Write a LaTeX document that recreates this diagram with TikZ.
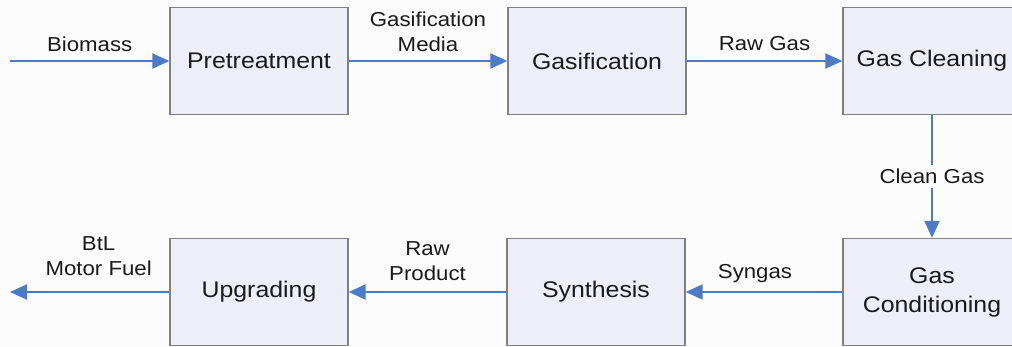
\documentclass[tikz,border=0pt]{standalone}
\usepackage{fontspec}
\setmainfont{Liberation Sans}[FakeStretch=1.1]
\usetikzlibrary{arrows.meta}
\definecolor{boxfill}{HTML}{EEEEF8}
\definecolor{boxdraw}{HTML}{808080}
\definecolor{arrowblue}{HTML}{4A7CC9}
\definecolor{txt}{HTML}{1A1A1A}
\tikzset{
  procbox/.style={draw=boxdraw, fill=boxfill, line width=1.3pt, minimum width=178pt, minimum height=107pt, inner sep=0pt, align=center, font=\fontsize{22.6}{29}\selectfont, text=txt},
  flow/.style={draw=arrowblue, line width=2pt, -{Triangle[length=17pt,width=15pt]}},
  lbl/.style={font=\fontsize{20.2}{25.5}\selectfont, text=txt, align=center, inner sep=1pt}
}
\begin{document}
\begin{tikzpicture}[x=1pt,y=1pt]
\fill[white!99!black] (0,0) rectangle (1012,-346);
\clip (0,0) rectangle (1012,-346);
\node[procbox] (pre) at (259,-61) {Pretreatment};
\node[procbox] (gas) at (597,-61) {Gasification};
\node[procbox] (clean) at (932,-61) {Gas Cleaning};
\node[procbox] (cond) at (932,-292) {Gas\\Conditioning};
\node[procbox] (syn) at (596,-292) {Synthesis};
\node[procbox] (upg) at (259,-292) {Upgrading};
\coordinate (in) at (10,-61);
\coordinate (out) at (10,-292);
\draw[flow] (in) -- (pre.west) node[lbl, midway, yshift=17pt] {Biomass};
\draw[flow] (pre.east) -- (gas.west) node[lbl, midway, yshift=29pt] {Gasification\\Media};
\draw[flow] (gas.east) -- (clean.west) node[lbl, midway, yshift=17pt] {Raw Gas};
\draw[flow] (clean.south) -- (cond.north) node[lbl, midway, fill=white!99!black, inner sep=4pt] {Clean Gas};
\draw[flow] (cond.west) -- (syn.east) node[lbl, midway, yshift=18pt, xshift=-9pt] {Syngas};
\draw[flow] (syn.west) -- (upg.east) node[lbl, midway, yshift=31pt] {Raw\\Product};
\draw[flow] (upg.west) -- (out) node[lbl, midway, yshift=36pt, xshift=9pt] {BtL\\Motor Fuel};
\end{tikzpicture}
\end{document}
